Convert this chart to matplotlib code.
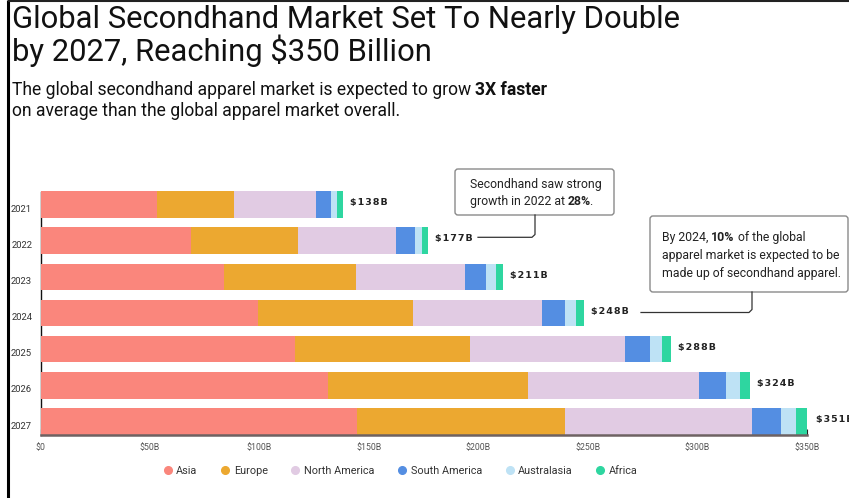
import matplotlib
matplotlib.use("Agg")
import matplotlib.pyplot as plt
from matplotlib.patches import FancyBboxPatch
from matplotlib.lines import Line2D
import numpy as np

years = ["2021", "2022", "2023", "2024", "2025", "2026", "2027"]
regions = ["Asia", "Europe", "North America", "South America", "Australasia", "Africa"]
asia = [53.0, 68.5, 84.0, 99.5, 116.0, 131.5, 144.5]
europe = [35.5, 49.0, 60.0, 70.5, 80.0, 91.0, 95.0]
north_america = [37.5, 45.0, 50.0, 59.0, 71.0, 78.0, 85.5]
south_america = [6.5, 8.5, 9.5, 10.5, 11.5, 12.5, 13.0]
australasia = [3.0, 3.2, 4.5, 5.2, 5.5, 6.5, 7.0]
africa = [2.5, 2.8, 3.0, 3.3, 4.0, 4.5, 6.0]
totals = [138, 177, 211, 248, 288, 324, 351]
x_ticks = [0, 50, 100, 150, 200, 250, 300, 350]
x_tick_labels = ["$0", "$50B", "$100B", "$150B", "$200B", "$250B", "$300B", "$350B"]
colors = ["#FA867C", "#ECA830", "#E1CBE3", "#548EE2", "#BEE2F5", "#2ED6A0"]

W, H = 849, 498
fig = plt.figure(figsize=(W / 100, H / 100), dpi=100)
fig.patch.set_facecolor("white")

FONT = "Roboto"

def fx(px):
    return px / W

def fy(py):
    return 1 - py / H

# main bar axes
ax_left, ax_right = 40.5, 807.0
ax_top, ax_bottom = 182.8, 434.75
ax = fig.add_axes([fx(ax_left), fy(ax_bottom), fx(ax_right - ax_left), (ax_bottom - ax_top) / H])
ax.set_facecolor("none")

ypos = np.arange(len(years))
series = [asia, europe, north_america, south_america, australasia, africa]
left = np.zeros(len(years))
for vals, col, name in zip(series, colors, regions):
    ax.barh(ypos, vals, left=left, height=0.73, color=col, label=name, zorder=2)
    left += np.array(vals)

ax.set_xlim(0, 350)
ax.set_ylim(6.365, -0.6)
for s in ["top", "right"]:
    ax.spines[s].set_visible(False)
ax.spines["left"].set_color("#111111")
ax.spines["left"].set_linewidth(1.0)
ax.spines["left"].set_zorder(1)
ax.spines["left"].set_bounds(6.365, -0.35)
ax.spines["bottom"].set_color("#6E6262")
ax.spines["bottom"].set_linewidth(1.8)
ax.spines["bottom"].set_zorder(3)

ax.set_xticks(x_ticks)
ax.set_xticklabels(x_tick_labels, fontsize=6.3, color="#555555", family=FONT)
ax.tick_params(axis="x", direction="in", length=4, width=0.8, color="#222222", pad=6)
ax.set_yticks(ypos + 0.1)
ax.set_yticklabels(years, fontsize=6.8, color="#333333", family=FONT)
ax.tick_params(axis="y", length=0, pad=6)

# total labels at bar ends
for i, (tot, end) in enumerate(zip(totals, left)):
    txt = "\u200a".join(f"${tot}B")
    ax.text(end + 3.2, i - 0.05, txt, fontsize=6.8, fontweight="bold", color="#222222",
            va="center", ha="left", family="DejaVu Sans", clip_on=False)

# overlay in pixel coordinates for titles, callouts and frame
ov = fig.add_axes([0, 0, 1, 1])
ov.set_xlim(0, W)
ov.set_ylim(H, 0)
ov.axis("off")
ov.patch.set_alpha(0)

# frame
ov.plot([8, 8], [0, H], color="black", lw=2.2, solid_capstyle="butt")
ov.plot([8, W], [0.8, 0.8], color="#222222", lw=1.5, solid_capstyle="butt")

ov.text(12, 19, "Global Secondhand Market Set To Nearly Double", fontsize=22.3,
        family=FONT, fontweight="normal", color="#111111", va="center", ha="left")
ov.text(12, 51, "by 2027, Reaching $350 Billion", fontsize=22.3,
        family=FONT, fontweight="normal", color="#111111", va="center", ha="left")

renderer = fig.canvas.get_renderer()

def mixed_line(x, y, parts, size, color="#111111"):
    inv = ov.transData.inverted()
    for text, weight in parts:
        if text.startswith("."):
            x -= 1.5
        t = ov.text(x, y, text, fontsize=size, family=FONT, fontweight=weight,
                    color=color, va="center", ha="left")
        bb = t.get_window_extent(renderer=renderer)
        x = inv.transform((bb.x1, bb.y0))[0]

mixed_line(12, 90, [("The global secondhand apparel market is expected to grow ", "normal"),
                    ("3X faster", "bold")], 12.65)
mixed_line(12, 111, [("on average than the global apparel market overall.", "normal")], 12.65)

# callout 1
box1 = FancyBboxPatch((455, 169), 159, 46, boxstyle="round,pad=0,rounding_size=3",
                      fc="white", ec="#8A8A8A", lw=1.0)
ov.add_patch(box1)
mixed_line(470, 184, [("Secondhand saw strong", "normal")], 8.8, "#222222")
mixed_line(470, 201, [("growth in 2022 at ", "normal"), ("28%", "bold"), (".", "normal")], 8.8, "#222222")
ov.plot([535, 535, 532, 478], [215, 234.5, 237.3, 237.3], color="#333333", lw=0.9)

# callout 2
box2 = FancyBboxPatch((650, 216), 198, 76, boxstyle="round,pad=0,rounding_size=3",
                      fc="white", ec="#8A8A8A", lw=1.0)
ov.add_patch(box2)
mixed_line(662, 237, [("By 2024, ", "normal"), ("10%", "bold"), (" of the global", "normal")], 8.8, "#222222")
mixed_line(662, 255, [("apparel market is expected to be", "normal")], 8.8, "#222222")
mixed_line(662, 273, [("made up of secondhand apparel.", "normal")], 8.8, "#222222")
ov.plot([752, 752, 749, 641], [292, 309.5, 312.5, 312.5], color="#333333", lw=0.9)

# legend
handles = [Line2D([0], [0], marker="o", linestyle="none", markersize=5.5,
                  markerfacecolor=c, markeredgecolor=c, label=r) for c, r in zip(colors, regions)]
leg = fig.legend(handles=handles, loc="center", bbox_to_anchor=(fx(400), fy(471)), ncol=6,
                 frameon=False, handletextpad=0.3, columnspacing=2.05,
                 handlelength=1.0, prop={"family": FONT, "size": 7.8})
for t in leg.get_texts():
    t.set_color("#333333")

fig.savefig("out.png", dpi=100, facecolor="white")
